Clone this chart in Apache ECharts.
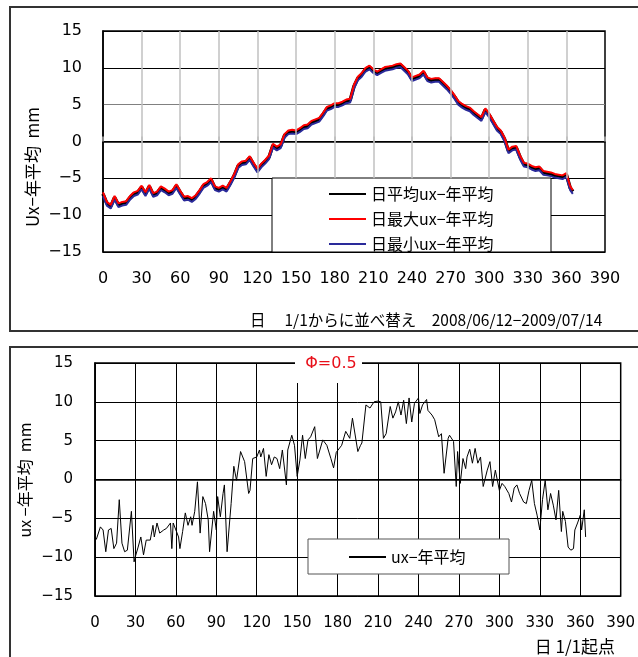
<!DOCTYPE html>
<html><head><meta charset="utf-8">
<script src="https://cdn.jsdelivr.net/npm/echarts@6/dist/echarts.min.js"></script>
<style>html,body{margin:0;padding:0;background:#fff}#c{width:638px;height:657px}</style>
</head><body><div id="c"></div>
<script>
// ---- Top chart data (every 3rd day) ----
const tDays = [0,3,6,9,12,15,18,21,24,27,30,33,36,39,42,45,48,51,54,57,60,63,66,69,72,75,78,81,84,87,90,93,96,99,102,105,108,111,114,117,120,123,126,129,132,135,138,141,144,147,150,153,156,159,162,165,168,171,174,177,180,183,186,189,192,195,198,201,204,207,210,213,216,219,222,225,228,231,234,237,240,243,246,249,252,255,258,261,264,267,270,273,276,279,282,285,288,291,294,297,300,303,306,309,312,315,318,321,324,327,330,333,336,339,342,345,348,351,354,357,360,363,365];
const tMean = [-7.1,-8.4,-8.8,-7.6,-8.6,-8.4,-8.3,-7.6,-7.1,-6.9,
-6.2,-7.1,-6.1,-7.2,-7.0,-6.3,-6.6,-7.0,-6.8,-6.0,
-6.9,-7.7,-7.6,-7.9,-7.5,-6.8,-6.0,-5.7,-5.2,-6.3,
-6.5,-6.2,-6.5,-5.6,-4.6,-3.3,-2.9,-2.8,-2.2,-3.1,
-3.9,-3.2,-2.7,-2.1,-0.5,-0.9,-0.6,0.8,1.3,1.4,
1.3,1.6,2.0,2.1,2.6,2.8,3.0,3.7,4.5,4.7,
5.0,5.0,5.2,5.5,5.6,7.5,8.6,9.1,9.8,10.1,
9.6,9.3,9.6,9.9,10.0,10.1,10.3,10.4,9.9,9.4,
8.5,8.7,8.9,9.4,8.5,8.3,8.4,8.4,7.9,7.4,
6.8,6.1,5.3,4.9,4.6,4.4,3.9,3.5,3.1,4.3,
3.6,2.7,1.8,1.3,0.3,-1.3,-0.9,-0.8,-2.1,-3.1,
-3.2,-3.5,-3.7,-3.6,-4.2,-4.3,-4.4,-4.6,-4.7,-4.8,
-4.5,-6.3,-6.8];
const tMax = [-6.9,-8.2,-8.6,-7.4,-8.4,-8.2,-8.1,-7.4,-6.9,-6.7,
-6.0,-6.9,-5.9,-7.0,-6.8,-6.1,-6.4,-6.8,-6.6,-5.8,
-6.7,-7.5,-7.4,-7.7,-7.3,-6.6,-5.8,-5.5,-5.0,-6.1,
-6.3,-6.0,-6.3,-5.4,-4.4,-3.1,-2.7,-2.6,-2.0,-2.9,
-3.7,-3.0,-2.5,-1.9,-0.3,-0.7,-0.4,1.0,1.5,1.6,
1.5,1.8,2.2,2.3,2.8,3.0,3.2,3.9,4.7,4.9,
5.2,5.2,5.4,5.7,5.8,7.7,8.8,9.3,10.0,10.3,
9.8,9.5,9.8,10.1,10.2,10.3,10.5,10.6,10.1,9.6,
8.7,8.9,9.1,9.6,8.7,8.5,8.6,8.6,8.1,7.6,
7.0,6.3,5.5,5.1,4.8,4.6,4.1,3.7,3.3,4.5,
3.8,2.9,2.0,1.5,0.5,-1.1,-0.7,-0.6,-1.9,-2.9,
-3.0,-3.3,-3.5,-3.4,-4.0,-4.1,-4.2,-4.4,-4.5,-4.6,
-4.3,-6.1,-6.6];
const tMin = [-7.4,-8.7,-9.1,-7.9,-8.9,-8.7,-8.6,-7.9,-7.4,-7.2,
-6.5,-7.4,-6.4,-7.5,-7.3,-6.6,-6.9,-7.3,-7.1,-6.3,
-7.2,-8.0,-7.9,-8.2,-7.8,-7.1,-6.3,-6.0,-5.5,-6.6,
-6.8,-6.5,-6.8,-5.9,-4.9,-3.6,-3.2,-3.1,-2.5,-3.4,
-4.2,-3.5,-3.0,-2.4,-0.8,-1.2,-0.9,0.5,1.0,1.1,
1.0,1.3,1.7,1.8,2.3,2.5,2.7,3.4,4.2,4.4,
4.7,4.7,4.9,5.2,5.3,7.2,8.3,8.8,9.5,9.8,
9.3,9.0,9.3,9.6,9.7,9.8,10.0,10.1,9.6,9.1,
8.2,8.4,8.6,9.1,8.2,8.0,8.1,8.1,7.6,7.1,
6.5,5.8,5.0,4.6,4.3,4.1,3.6,3.2,2.8,4.0,
3.3,2.4,1.5,1.0,0.0,-1.6,-1.2,-1.1,-2.4,-3.4,
-3.5,-3.8,-4.0,-3.9,-4.5,-4.6,-4.7,-4.9,-5.0,-5.1,
-4.8,-6.6,-7.1];

// ---- Bottom chart data: [day, ux - annual mean] ----
const bottomPoints = [[0,-7.4],[1,-7.7],[4,-6.1],[6,-6.5],[8,-9.3],[10,-6.5],[12,-6.3],[14,-8.9],[16,-8.2],[18,-2.6],[20,-8.2],[22,-9.3],[24,-9.1],[27,-4.1],[29,-10.6],[30,-9.9],[32,-8.7],[34,-7.4],[36,-9.7],[38,-7.8],[41,-7.8],[43,-5.9],[44,-7.4],[46,-5.6],[48,-6.9],[51,-6.5],[53,-6.3],[56,-5.6],[57,-8.9],[58,-5.6],[60,-6.5],[62,-7.4],[63,-8.9],[65,-6.7],[67,-4.3],[69,-5.9],[71,-4.8],[72,-5.9],[74,-4.1],[76,-0.3],[78,-6.9],[80,-2.2],[82,-3.1],[84,-5.2],[85,-9.3],[88,-4.1],[90,-6.5],[91,-2.2],[93,-4.8],[95,-1.8],[96,-0.7],[98,-9.3],[101,-3.1],[103,1.7],[105,-0.1],[108,3.6],[111,2.3],[114,-1.8],[115,-1.4],[117,2.7],[120,2.9],[122,3.8],[123,2.9],[125,4.0],[127,0.4],[129,3.2],[131,1.9],[133,2.9],[135,2.7],[137,1.4],[139,3.8],[142,-0.7],[143,3.8],[146,5.7],[148,4.4],[150,0.4],[152,2.5],[154,5.7],[156,2.7],[158,5.1],[160,5.5],[163,6.8],[165,2.7],[169,5.1],[172,4.4],[175,2.7],[177,1.5],[179,3.5],[180,3.4],[183,4.4],[186,6.2],[189,5.3],[191,7.9],[195,3.6],[197,4.4],[198,4.7],[201,9.6],[204,9.2],[207,10.0],[210,10.1],[212,10.0],[214,5.3],[216,5.9],[219,9.4],[221,7.9],[223,8.7],[225,10.0],[227,8.3],[229,10.2],[231,7.2],[233,10.5],[235,7.4],[237,9.8],[240,10.5],[241,8.5],[243,9.6],[246,10.3],[247,8.9],[250,8.3],[252,7.7],[255,5.5],[257,5.9],[259,0.8],[262,5.3],[263,5.7],[266,4.9],[268,-0.9],[269,3.6],[271,-0.5],[273,2.7],[275,1.4],[276,2.9],[278,3.9],[280,2.1],[282,4.0],[284,2.1],[286,2.9],[288,-0.9],[291,1.2],[293,2.3],[295,-0.9],[297,1.2],[300,-1.4],[302,-0.5],[304,-0.9],[307,-1.8],[309,-2.9],[311,-1.1],[313,-0.7],[315,-1.8],[318,-2.9],[320,-3.1],[322,-1.4],[324,-0.1],[326,-3.1],[328,-4.6],[330,-6.5],[332,-2.6],[334,-0.1],[336,-3.9],[338,-1.8],[340,-3.3],[342,-5.2],[344,-1.4],[346,-6.7],[347,-4.1],[349,-5.4],[351,-8.7],[353,-9.1],[355,-8.9],[356,-6.5],[358,-5.6],[360,-4.6],[361,-6.5],[363,-3.9],[364,-7.4]];

// ---- Axis ticks / labels ----
const xTickStep = 30, xMin = 0, xMax = 390;
const yTickStep = 5, yMin = -15, yMax = 15;
const topGridX = [30,60,90,120,150,180,210,240,270,300,330,360];
const names = ['日平均ux−年平均','日最大ux−年平均','日最小ux−年平均'];
const bottomName = 'ux−年平均';

const numFont = '"DejaVu Sans", sans-serif';
const jpFont = '"Noto Sans CJK JP", sans-serif';
const minusFmt = v => String(v).replace('-', '−');

const chart = echarts.init(document.getElementById('c'), null, {renderer:'canvas'});
const zip = (xs, ys) => xs.map((x, i) => [x, ys[i]]);

const xBase = {type:'value', min:xMin, max:xMax, interval:xTickStep,
  axisLine:{lineStyle:{color:'#000', width:1.5}},
  axisLabel:{fontSize:15, color:'#000', fontFamily:numFont}};
const yBase = {type:'value', min:yMin, max:yMax, interval:yTickStep,
  axisLine:{show:true, lineStyle:{color:'#000', width:1.5}}, axisTick:{show:false},
  axisLabel:{fontSize:15, color:'#000', fontFamily:numFont, formatter:minusFmt}};
const legendItem = n => ({name:n, itemStyle:{opacity:0, color:'transparent', borderWidth:0}});

chart.setOption({
  animation:false,
  backgroundColor:'#fff',
  grid:[
    {left:103, top:31, width:502, height:221, show:true, borderColor:'#000', borderWidth:1.5},
    {left:95, top:363, width:526, height:233, show:true, borderColor:'#000', borderWidth:1.5}
  ],
  xAxis:[
    Object.assign({}, xBase, {gridIndex:0, splitLine:{show:false},
      axisTick:{show:true, inside:true, length:5, lineStyle:{color:'#b0b0b0', width:1.5}},
      axisLabel:Object.assign({}, xBase.axisLabel, {margin:19, fontSize:16})}),
    Object.assign({}, xBase, {gridIndex:1, splitLine:{show:true, lineStyle:{color:'#000', width:1}},
      axisTick:{show:false},
      axisLabel:Object.assign({}, xBase.axisLabel, {margin:20})})
  ],
  yAxis:[
    Object.assign({}, yBase, {gridIndex:0,
      splitLine:{show:true, lineStyle:{color:['#000','#000','#000','#000','#808080','#000','#000'], width:1}},
      axisLabel:Object.assign({}, yBase.axisLabel, {margin:21, fontSize:16})}),
    Object.assign({}, yBase, {gridIndex:1,
      splitLine:{show:true, lineStyle:{color:'#000', width:1}},
      axisLabel:Object.assign({}, yBase.axisLabel, {margin:22})})
  ],
  legend:[
    {data:names.map(legendItem), orient:'vertical', left:328, top:186, padding:0, itemWidth:37, itemHeight:14, itemGap:9,
     selectedMode:false, itemStyle:{opacity:0}, textStyle:{fontSize:16, color:'#000', fontFamily:jpFont}},
    {data:[legendItem(bottomName)], orient:'vertical', left:348, top:549, padding:0, itemWidth:37, itemHeight:14,
     selectedMode:false, itemStyle:{opacity:0}, textStyle:{fontSize:16, color:'#000', fontFamily:jpFont}}
  ],
  series:[
    {type:'line', xAxisIndex:0, yAxisIndex:0, data:[], silent:true, symbol:'none',
     markLine:{silent:true, symbol:'none', label:{show:false}, animation:false,
       lineStyle:{color:'#c0c0c0', type:'solid', width:1.5},
       data: topGridX.map(x => [{coord:[x, -5]}, {coord:[x, yMax]}])}},
    {name:names[0], type:'line', xAxisIndex:0, yAxisIndex:0, data:zip(tDays, tMean), symbol:'none',
     lineStyle:{color:'#000', width:3.5}, itemStyle:{color:'#000'}},
    {name:names[2], type:'line', xAxisIndex:0, yAxisIndex:0, data:zip(tDays, tMin), symbol:'none',
     lineStyle:{color:'#2a2a9a', width:2}, itemStyle:{color:'#2a2a9a'}},
    {name:names[1], type:'line', xAxisIndex:0, yAxisIndex:0, data:zip(tDays, tMax), symbol:'none',
     lineStyle:{color:'#ff0000', width:2}, itemStyle:{color:'#ff0000'}},
    {name:bottomName, type:'line', xAxisIndex:1, yAxisIndex:1, data:bottomPoints, symbol:'none',
     lineStyle:{color:'#000', width:1}, itemStyle:{color:'#000'}}
  ],
  graphic:[
    {type:'rect', z:10, shape:{x:10, y:7, width:660, height:324}, style:{fill:'none', stroke:'#333', lineWidth:2}},
    {type:'rect', z:10, shape:{x:10, y:347, width:660, height:340}, style:{fill:'none', stroke:'#333', lineWidth:2}},
    {type:'rect', z:1, shape:{x:272, y:178, width:279, height:74}, style:{fill:'#fff', stroke:'#000', lineWidth:1}},
    {type:'rect', z:1, shape:{x:295, y:352, width:67, height:31}, style:{fill:'#fff', stroke:null}},
    {type:'rect', z:1, shape:{x:308, y:539, width:201, height:35}, style:{fill:'#fff', stroke:'#555', lineWidth:1}},
    {type:'text', z:10, x:331, y:364, style:{text:'Φ=0.5', fill:'#e8101a', font:'16px '+numFont, align:'center', verticalAlign:'middle'}},
    {type:'text', z:10, x:33, y:167, rotation:Math.PI/2, style:{text:'Ux−年平均  mm', fill:'#000', font:'17px '+jpFont, align:'center', verticalAlign:'middle'}},
    {type:'text', z:10, x:25, y:480, rotation:Math.PI/2, style:{text:'ux −年平均  mm', fill:'#000', font:'16px '+jpFont, align:'center', verticalAlign:'middle'}},
    {type:'text', z:10, x:250, y:320, style:{text:'日　 1/1からに並べ替え　2008/06/12−2009/07/14', fill:'#000', font:'15.5px '+jpFont, align:'left', verticalAlign:'middle'}},
    {type:'text', z:10, x:615, y:647, style:{text:'日 1/1起点', fill:'#000', font:'17px '+jpFont, align:'right', verticalAlign:'middle'}}
  ]
});
</script></body></html>
